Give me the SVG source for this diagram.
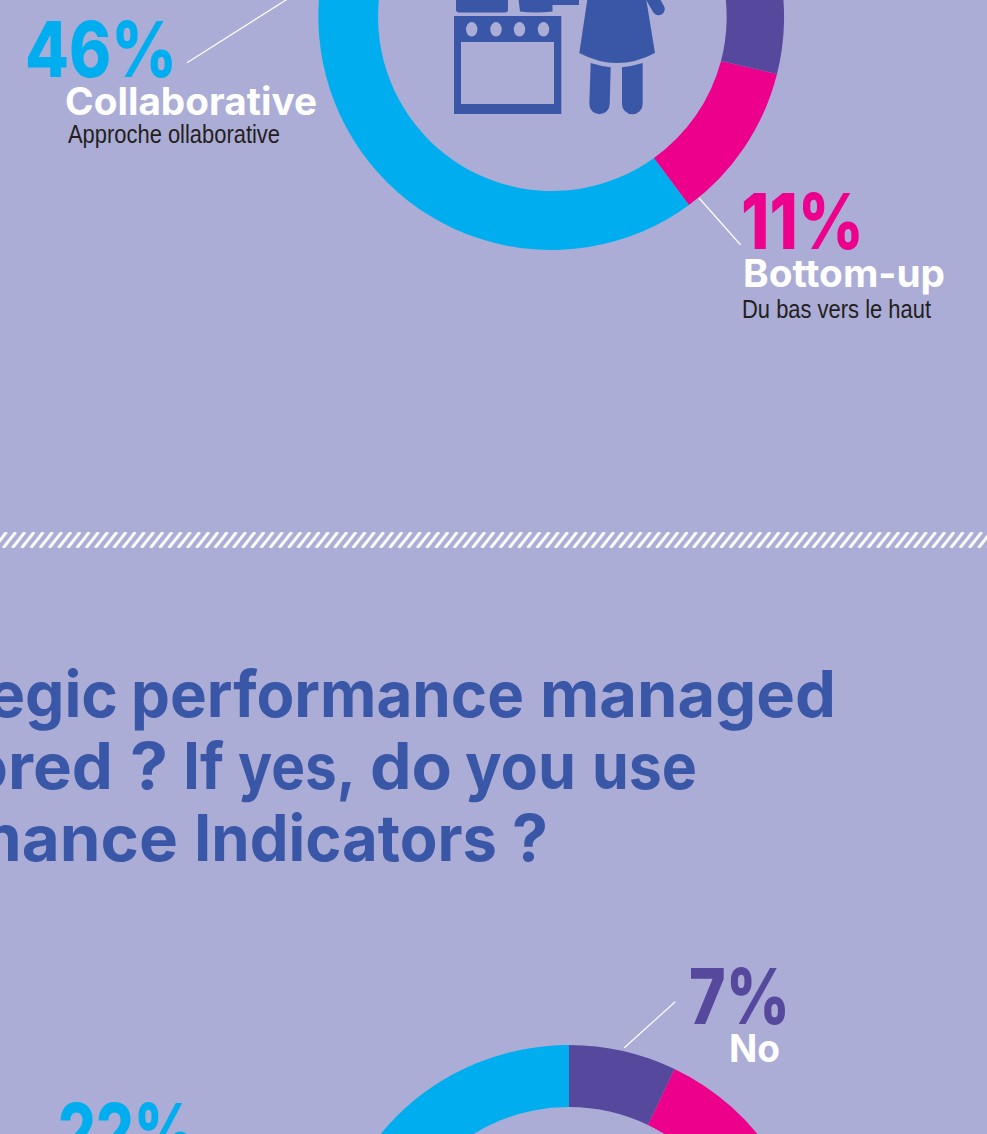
<svg xmlns="http://www.w3.org/2000/svg" width="987" height="1134" viewBox="0 0 987 1134">
<style>
text{font-variant-ligatures:none}
.h{font-family:Inter,"Liberation Sans",sans-serif;font-weight:700;font-size:64px;fill:#3A57A7}
.p{font-family:Inter,"Liberation Sans",sans-serif;font-weight:800;font-size:77px}
.w{font-family:Inter,"Liberation Sans",sans-serif;font-weight:700;font-size:38px;fill:#fff}
.s{font-family:"Liberation Sans",Arial,sans-serif;font-size:25px;fill:#231F20}
.l{stroke:#fff;stroke-width:1.2;fill:none}
.i{fill:#3A57A7}
</style>
<defs>
<pattern id="hatch" width="9.2" height="16" patternUnits="userSpaceOnUse" patternTransform="translate(0 532)">
<path d="M-6 16L6.500 0M3.200 16L15.700 0M-15.200 16L-2.700 0" stroke="#fff" stroke-width="3" fill="none"/>
</pattern>
</defs>
<rect width="987" height="1134" fill="#ABADD6"/>
<g id="donut-top">
<path fill="#00AEEF" d="M689 205A233 233 0 1 1 551 -216L551 -157A174 174 0 1 0 654 158Z"/>
<path fill="#EC008C" d="M777 74A233 233 0 0 1 689 205L654 158A174 174 0 0 0 721 61Z"/>
<path fill="#55489D" d="M777 74A233 233 0 0 0 551 -216L551 -157A174 174 0 0 1 721 61Z"/>
</g>
<g id="kitchen-icon">
<path class="i" fill-rule="evenodd" d="M454 16H561.3V114H454ZM461 42V104H554V42Z"/>
<g fill="#ABADD6"><ellipse cx="471.7" cy="29.3" rx="5.7" ry="7.3"/><ellipse cx="496" cy="29.3" rx="5.7" ry="7.3"/><ellipse cx="519.5" cy="29.3" rx="5.7" ry="7.3"/><ellipse cx="543.5" cy="29.3" rx="5.7" ry="7.3"/></g>
<path class="i" d="M456 -5H508V9.500Q508 12.500 505 12.500H459Q456 12.500 456 9.500Z"/>
<path class="i" d="M518 -5H579V5H552.500V11.500Q535 13.500 520 11.500Z"/>
<path class="i" d="M588 -5H645.500L655 53Q617 73 579.300 53Z"/>
<path class="i" d="M590.700 63Q600 66 610.700 67.300L609.700 104A10.200 10.200 0 0 1 589.300 104Z"/>
<path class="i" d="M622 67.300Q633 66 642.700 63V104A10.300 10.300 0 0 1 622 104Z"/>
<path d="M650 -6L658.500 9" stroke="#3A57A7" stroke-width="12.500" stroke-linecap="round" fill="none"/>
</g>
<g id="connectors">
<path class="l" d="M187 62.700L297 -7"/>
<path class="l" d="M699 198L740.700 245"/>
<path class="l" d="M624.300 1047.700L675.300 1001.700"/>
</g>
<g id="label-46">
<text class="p" x="25" y="77" fill="#00AEEF" textLength="152" lengthAdjust="spacingAndGlyphs">46%</text>
<text class="w" x="65" y="114.700" textLength="252" lengthAdjust="spacingAndGlyphs">Collaborative</text>
<text class="s" x="68" y="143" textLength="212" lengthAdjust="spacingAndGlyphs">Approche ollaborative</text>
</g>
<g id="label-11">
<text class="p" x="741" y="249" fill="#EC008C" textLength="123" lengthAdjust="spacingAndGlyphs">11%</text>
<text class="w" x="743" y="287" textLength="202" lengthAdjust="spacingAndGlyphs">Bottom-up</text>
<text class="s" x="742" y="318" textLength="189" lengthAdjust="spacingAndGlyphs">Du bas vers le haut</text>
</g>
<rect id="divider" x="0" y="532" width="987" height="16" fill="url(#hatch)"/>
<g id="heading">
<text class="h" y="717"><tspan x="-12" textLength="130" lengthAdjust="spacingAndGlyphs">egic</tspan> <tspan x="131" textLength="393" lengthAdjust="spacingAndGlyphs">performance</tspan> <tspan x="540" textLength="296" lengthAdjust="spacingAndGlyphs">managed</tspan></text>
<text class="h" y="789"><tspan x="-32" textLength="145" lengthAdjust="spacingAndGlyphs">ored</tspan> <tspan x="130" textLength="38" lengthAdjust="spacingAndGlyphs">?</tspan> <tspan x="183" textLength="41" lengthAdjust="spacingAndGlyphs">If</tspan> <tspan x="238" textLength="116" lengthAdjust="spacingAndGlyphs">yes,</tspan> <tspan x="370" textLength="82" lengthAdjust="spacingAndGlyphs">do</tspan> <tspan x="465" textLength="111" lengthAdjust="spacingAndGlyphs">you</tspan> <tspan x="592" textLength="105" lengthAdjust="spacingAndGlyphs">use</tspan></text>
<text class="h" y="861"><tspan x="-38" textLength="216" lengthAdjust="spacingAndGlyphs">mance</tspan> <tspan x="194" textLength="303" lengthAdjust="spacingAndGlyphs">Indicators</tspan> <tspan x="512" textLength="36" lengthAdjust="spacingAndGlyphs">?</tspan></text>
</g>
<g id="donut-bottom">
<path fill="#00AEEF" d="M569 1045A244 244 0 0 0 325 1289H387A182 182 0 0 1 569 1107Z"/>
<path fill="#55489D" d="M569 1045A244 244 0 0 1 674.500 1069L648 1125A182 182 0 0 0 569 1107Z"/>
<path fill="#EC008C" d="M674.500 1069A244 244 0 0 1 813 1289H751A182 182 0 0 0 648 1125Z"/>
</g>
<g id="label-7">
<text class="p" x="689" y="1024" fill="#55489D" textLength="101" lengthAdjust="spacingAndGlyphs">7%</text>
<text class="w" x="729" y="1061.700" textLength="51" lengthAdjust="spacingAndGlyphs">No</text>
</g>
<g id="label-22">
<text class="p" x="58" y="1159" fill="#00AEEF" textLength="137" lengthAdjust="spacingAndGlyphs">22%</text>
</g>
</svg>
